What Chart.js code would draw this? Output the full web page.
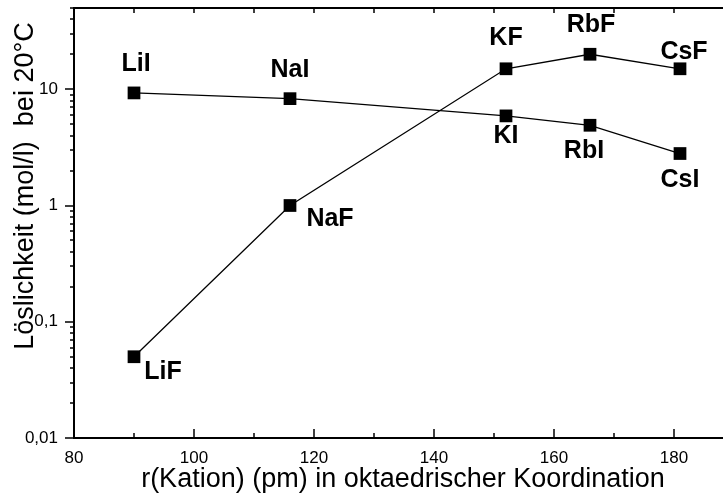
<!DOCTYPE html>
<html>
<head>
<meta charset="utf-8">
<script src="https://cdn.jsdelivr.net/npm/chart.js@4.4.0/dist/chart.umd.min.js"></script>
<style>
  html, body { margin: 0; padding: 0; background: #fff; overflow: hidden; }
  canvas { display: block; }
</style>
</head>
<body>
<canvas id="c" width="723" height="495"></canvas>
<script>
// ionic radius of the cation (pm) and solubility at 20 C (mol/l)
var radius = [90, 116, 152, 166, 181];
var fluoride = [0.05, 1.0, 15, 20, 15];
var iodide = [9.3, 8.3, 5.9, 4.9, 2.8];
var fluorideNames = ['LiF', 'NaF', 'KF', 'RbF', 'CsF'];
var iodideNames = ['LiI', 'NaI', 'KI', 'RbI', 'CsI'];
var xMajor = [80, 100, 120, 140, 160, 180];
var yMajor = [0.01, 0.1, 1, 10];

// label offsets from the marker, in px
var fOffsets = [[29, 15], [40, 14], [0, -31], [1, -29], [4, -17]];
var iOffsets = [[2, -29], [0, -29], [0, 20], [-6, 26], [0, 27]];

var FONT = '"Liberation Sans", Arial, sans-serif';

function pts(ys) {
	var out = [];
	for (var i = 0; i < radius.length; i++) out.push({x: radius[i], y: ys[i]});
	return out;
}

function noPad(s) {
	s.paddingTop = 0; s.paddingBottom = 0; s.paddingLeft = 0; s.paddingRight = 0;
}

var framePlugin = {
	id: 'frame',
	afterDatasetsDraw: function(chart) {
		var ctx = chart.ctx, a = chart.chartArea;
		var xs = chart.scales.x, ys = chart.scales.y;
		ctx.save();
		ctx.strokeStyle = '#000';
		ctx.lineWidth = 2;
		ctx.beginPath();
		ctx.moveTo(a.left, a.top); ctx.lineTo(a.left, a.bottom);
		ctx.moveTo(a.left - 1, a.bottom); ctx.lineTo(a.right + 1, a.bottom);
		ctx.moveTo(a.left - 1, a.top); ctx.lineTo(a.right + 1, a.top);
		ctx.stroke();

		ctx.lineWidth = 1.5;
		ctx.beginPath();
		// x ticks every 10, bottom inward, top inward
		for (var v = 80; v <= xs.max; v += 10) {
			var px = Math.round(xs.getPixelForValue(v));
			var len = (v % 20 === 0) ? 9 : 5;
			ctx.moveTo(px, a.bottom); ctx.lineTo(px, a.bottom - len);
			ctx.moveTo(px, a.top); ctx.lineTo(px, a.top + 5);
		}
		// y ticks: decades long, 2..9 short, outward
		for (var d = 0.01; d < 100; d *= 10) {
			for (var m = 1; m <= 9; m++) {
				var val = d * m;
				if (val < ys.min || val > ys.max) continue;
				var py = Math.round(ys.getPixelForValue(val));
				var l = (m === 1) ? 9 : 4;
				ctx.moveTo(a.left, py); ctx.lineTo(a.left - l, py);
			}
		}
		ctx.stroke();

		// point labels
		ctx.fillStyle = '#000';
		ctx.font = 'bold 25px ' + FONT;
		ctx.textAlign = 'center';
		ctx.textBaseline = 'middle';
		var sets = [[0, fluorideNames, fOffsets], [1, iodideNames, iOffsets]];
		sets.forEach(function(s) {
			var meta = chart.getDatasetMeta(s[0]);
			meta.data.forEach(function(el, i) {
				ctx.fillText(s[1][i], el.x + s[2][i][0], el.y + s[2][i][1]);
			});
		});

		// axis titles
		ctx.font = '27px ' + FONT;
		ctx.textBaseline = 'alphabetic';
		ctx.fillText('r(Kation) (pm) in oktaedrischer Koordination', 403, 487);
		ctx.translate(33, 186);
		ctx.rotate(-Math.PI / 2);
		ctx.fillText('L\u00f6slichkeit (mol/l)  bei 20\u00b0C', 0, 0);
		ctx.restore();
	}
};

new Chart(document.getElementById('c'), {
	type: 'line',
	data: {
		datasets: [
			{label: 'Fluoride', data: pts(fluoride)},
			{label: 'Iodide', data: pts(iodide)}
		]
	},
	options: {
		responsive: false,
		animation: false,
		layout: {autoPadding: false, padding: {top: 8, right: 1, left: 0, bottom: 0}},
		elements: {
			line: {borderColor: '#000', borderWidth: 1.3, tension: 0, fill: false},
			point: {pointStyle: 'rect', radius: 9, borderWidth: 0, backgroundColor: '#000', borderColor: '#000'}
		},
		plugins: {legend: {display: false}, tooltip: {enabled: false}},
		scales: {
			x: {
				type: 'linear', min: 80, max: 188,
				grid: {display: false, drawTicks: false},
				border: {display: false},
				afterBuildTicks: function(s) { s.ticks = xMajor.map(function(v) { return {value: v}; }); },
				ticks: {padding: 10, color: '#000', font: {family: FONT, size: 17}},
				afterFit: function(s) { s.height = 57; noPad(s); }
			},
			y: {
				type: 'logarithmic', min: 0.01, max: 50,
				grid: {display: false, drawTicks: false},
				border: {display: false},
				afterBuildTicks: function(s) { s.ticks = yMajor.map(function(v) { return {value: v}; }); },
				ticks: {
					padding: 16, color: '#000', font: {family: FONT, size: 17},
					callback: function(v) { return String(v).replace('.', ','); }
				},
				afterFit: function(s) { s.width = 74; noPad(s); }
			}
		}
	},
	plugins: [framePlugin]
});
</script>
</body>
</html>
